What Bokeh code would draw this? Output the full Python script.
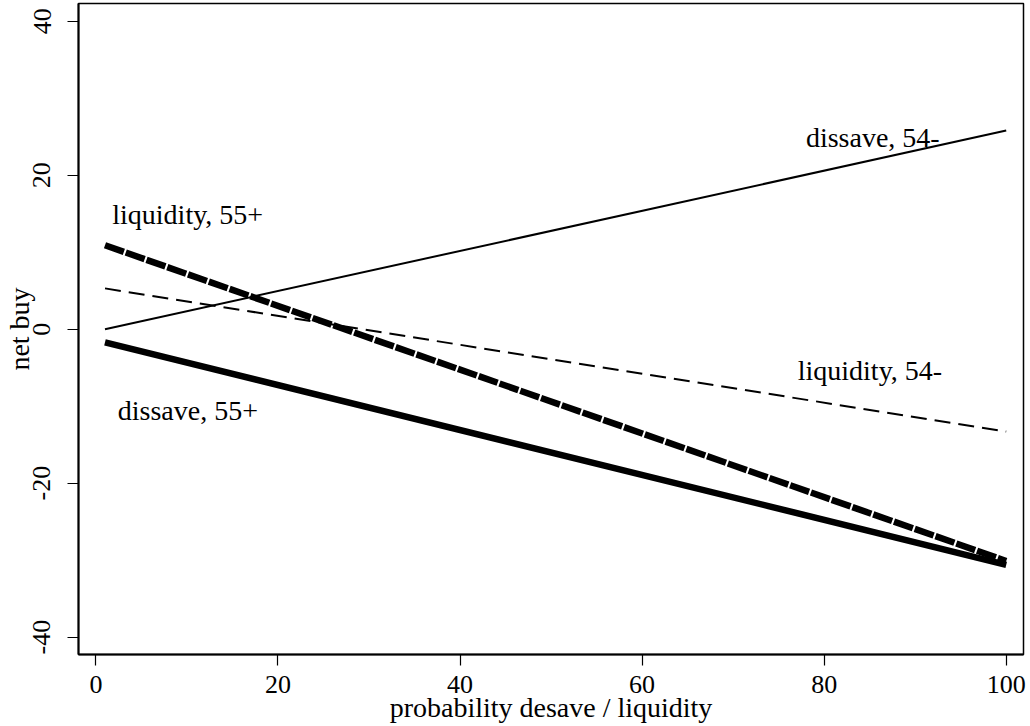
from bokeh.plotting import figure
from bokeh.models import Range1d, FixedTicker, Label
from bokeh.embed import file_html
from bokeh.resources import INLINE

# data: straight-line fits, evaluated at x = 1 and x = 100
x_vals = [1, 100]
dissave_54 = [0.0, 25.8]
liquidity_54 = [5.3, -13.3]
liquidity_55 = [10.9, -30.1]
dissave_55 = [-1.7, -30.6]

x_ticks = [0, 20, 40, 60, 80, 100]
y_ticks = [-40, -20, 0, 20, 40]
y_tick_text = {-40: "-40", -20: "-20", 0: "0", 20: "20", 40: "40"}

labels = ["dissave, 54-", "liquidity, 54-", "liquidity, 55+", "dissave, 55+"]
label_x = [78.0, 77.1, 1.8, 2.4]
label_y = [24.9, -5.3, 14.9, -10.5]

FONT = "Liberation Serif"

p = figure(width=1030, height=726, output_backend="svg", toolbar_location=None,
           x_range=Range1d(-1.91, 101.9), y_range=Range1d(-42.25, 42.3),
           min_border_left=78, min_border_right=7, min_border_top=3, min_border_bottom=72)
p.background_fill_color = "white"
p.border_fill_color = "white"
p.outline_line_color = "black"
p.outline_line_width = 1.5
p.xgrid.visible = False
p.ygrid.visible = False

for ax in (p.xaxis[0], p.yaxis[0]):
    ax.axis_line_color = "black"
    ax.axis_line_width = 2
    ax.major_tick_in = 0
    ax.major_tick_out = 11
    ax.major_tick_line_color = "black"
    ax.major_tick_line_width = 1.2
    ax.minor_tick_line_color = None
    ax.major_label_text_font = FONT
    ax.major_label_text_font_size = "26px"
    ax.major_label_text_color = "black"
    ax.axis_label_text_font = FONT
    ax.axis_label_text_font_size = "28px"
    ax.axis_label_text_font_style = "normal"
    ax.axis_label_text_color = "black"

p.xaxis.ticker = FixedTicker(ticks=x_ticks)
p.yaxis.ticker = FixedTicker(ticks=y_ticks)
p.yaxis.major_label_overrides = y_tick_text
p.xaxis.axis_label = "probability desave / liquidity"
p.yaxis.axis_label = "net buy"
p.yaxis.major_label_orientation = "vertical"
p.xaxis.major_label_standoff = 10
p.xaxis.axis_label_standoff = -4
p.yaxis.major_label_standoff = 17
p.yaxis.axis_label_standoff = -4

p.line(x_vals, dissave_54, line_color="black", line_width=2)
p.line(x_vals, liquidity_54, line_color="black", line_width=2, line_dash="16 8")
p.line(x_vals, dissave_55, line_color="black", line_width=6.5)
p.line(x_vals, liquidity_55, line_color="black", line_width=6.5, line_dash="20 2")

for t, lx, ly in zip(labels, label_x, label_y):
    p.add_layout(Label(x=lx, y=ly, text=t, text_font=FONT, text_font_size="28px",
                       text_color="black", text_baseline="alphabetic"))

open("out.html", "w").write(file_html(p, INLINE))
